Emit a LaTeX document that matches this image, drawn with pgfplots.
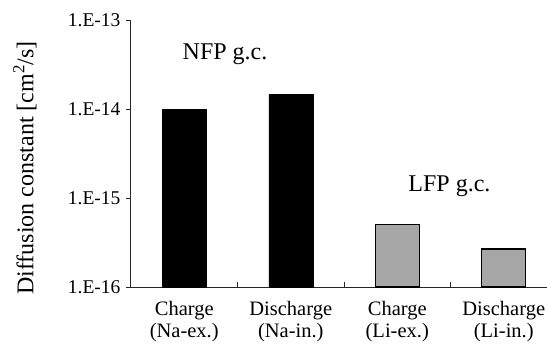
\documentclass[border=0pt]{standalone}
\usepackage{pgfplots}
\pgfplotsset{compat=1.18}
\usepackage{fontspec}
\setmainfont{Liberation Serif}
\definecolor{bargray}{HTML}{A6A6A6}
\begin{document}
\begin{tikzpicture}
\path[use as bounding box] (-131pt,-58pt) rectangle (416pt,287pt);
\begin{axis}[
  at={(0,0)}, anchor=south west,
  scale only axis, width=416pt, height=267pt,
  xmin=-0.5, xmax=3.406,
  ymode=log, ymin=1e-16, ymax=1e-13, log origin=infty,
  axis lines*=left,
  axis line style={black!85, line width=1pt},
  ytick={1e-16,1e-15,1e-14,1e-13},
  yticklabels={1.E-16,1.E-15,1.E-14,1.E-13},
  yminorticks=false,
  ytick align=outside,
  major tick length=5pt,
  tick style={black!85, line width=1pt},
  yticklabel style={font=\fontsize{19.5}{21}\selectfont, xshift=-2pt},
  xtick={0,1,2,3},
  xticklabels={Charge\\(Na-ex.),Discharge\\(Na-in.),Charge\\(Li-ex.),Discharge\\(Li-in.)},
  xticklabel style={font=\fontsize{20.5}{21.5}\selectfont, align=center, yshift=-11pt},
  xtick style={draw=none},
  extra x ticks={0.5,1.5,2.5},
  extra x tick labels={},
  extra x tick style={xtick style={draw=black!85}, xtick align=inside},
  ylabel={Diffusion constant [cm\textsuperscript{2}/s]},
  every axis y label/.style={at={(rel axis cs:0,0.446)}, xshift=-106pt, rotate=90, anchor=center, font=\fontsize{24}{28}\selectfont},
  clip=false,
]
\addplot[ybar, bar width=44pt, bar shift=0pt, fill=black, draw=black] coordinates {(0,1.0e-14) (1,1.47e-14)};
\addplot[ybar, bar width=44pt, bar shift=0pt, fill=bargray, draw=black, line width=1.3pt] coordinates {(2,5.0e-16) (3,2.67e-16)};
\node[font=\fontsize{24}{28}\selectfont, anchor=base] at (axis cs:0.383,3.63e-14) {NFP g.c.};
\node[font=\fontsize{24}{28}\selectfont, anchor=base] at (axis cs:2.49,1.17e-15) {LFP g.c.};
\end{axis}
\end{tikzpicture}
\end{document}
